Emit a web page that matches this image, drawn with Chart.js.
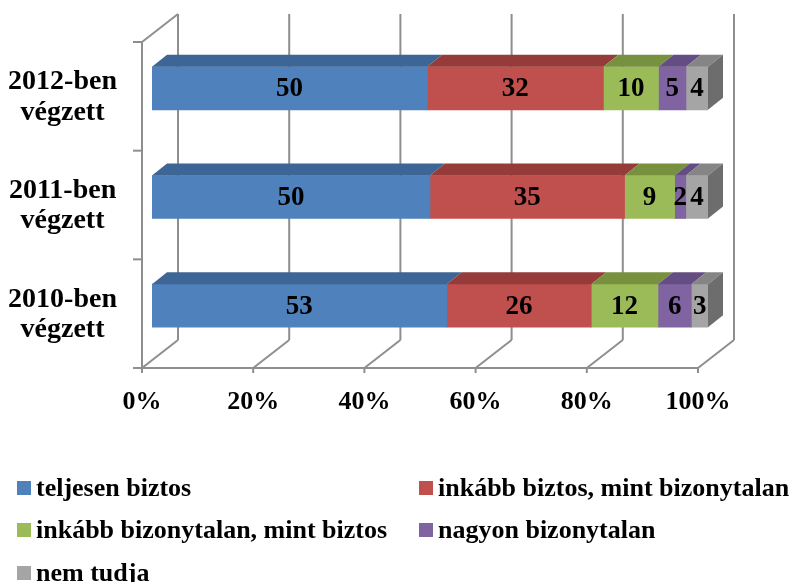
<!DOCTYPE html>
<html>
<head>
<meta charset="utf-8">
<script src="https://cdn.jsdelivr.net/npm/chart.js@4.4.0/dist/chart.umd.min.js"></script>
<style>
  html, body { margin: 0; padding: 0; background: #fff; }
</style>
</head>
<body>
<canvas id="chart" width="799" height="582"></canvas>
<script>
// categories, top to bottom
const categories = [['2012-ben', 'végzett'], ['2011-ben', 'végzett'], ['2010-ben', 'végzett']];
const seriesNames = ['teljesen biztos', 'inkább biztos, mint bizonytalan', 'inkább bizonytalan, mint biztos', 'nagyon bizonytalan', 'nem tudja'];
const teljesenBiztos = [50, 50, 53];
const inkabbBiztos = [32, 35, 26];
const inkabbBizonytalan = [10, 9, 12];
const nagyonBizonytalan = [5, 2, 6];
const nemTudja = [4, 4, 3];
const xTicks = [0, 20, 40, 60, 80, 100];

const seriesValues = [teljesenBiztos, inkabbBiztos, inkabbBizonytalan, nagyonBizonytalan, nemTudja];
const frontColors = ['#4f81bd', '#c0504d', '#9bbb59', '#8064a2', '#a5a5a5'];
const topColors = ['#3d6595', '#953b39', '#77913f', '#634d82', '#858585'];
const sideColor = '#6d6d6d';
const lineColor = '#8e8e8e';
const serif = "'Times New Roman', 'Liberation Serif', serif";

// 100% stacked: each row is scaled to its own total
const totals = categories.map((c, i) => seriesValues.reduce((s, arr) => s + arr[i], 0));

const DX = 15, DY = 12;              // depth of a bar
const FRONT = { x: -10, y: 8 };      // front edge of floor/wall vs bar plane
const BACK = { x: 26, y: -20 };      // back wall vs bar plane

function line(ctx, x1, y1, x2, y2) {
  ctx.beginPath();
  ctx.moveTo(x1, y1);
  ctx.lineTo(x2, y2);
  ctx.stroke();
}
function poly(ctx, pts, color) {
  ctx.beginPath();
  ctx.moveTo(pts[0][0], pts[0][1]);
  for (let i = 1; i < pts.length; i++) ctx.lineTo(pts[i][0], pts[i][1]);
  ctx.closePath();
  ctx.fillStyle = color;
  ctx.fill();
}

const threeD = {
  id: 'threeD',
  beforeDatasetsDraw(chart) {
    const { ctx, chartArea: a, scales: { x } } = chart;
    ctx.save();
    ctx.strokeStyle = lineColor;
    ctx.lineWidth = 2;
    const fy = a.bottom + FRONT.y, by = a.bottom + BACK.y;
    xTicks.forEach(v => {
      const px = x.getPixelForValue(v);
      line(ctx, px + BACK.x, a.top + BACK.y, px + BACK.x, by);
      line(ctx, px + FRONT.x, fy, px + BACK.x, by);
      line(ctx, px + FRONT.x, fy, px + FRONT.x, fy + 5);
    });
    const x0 = x.getPixelForValue(0), x1 = x.getPixelForValue(100);
    line(ctx, x0 + FRONT.x - 9, fy, x1 + FRONT.x, fy);
    line(ctx, x0 + FRONT.x, a.top + FRONT.y, x0 + FRONT.x, fy);
    line(ctx, x0 + FRONT.x, a.top + FRONT.y, x0 + BACK.x, a.top + BACK.y);
    const n = categories.length;
    for (let i = 0; i <= n; i++) {
      const yy = a.top + i * (a.bottom - a.top) / n + FRONT.y;
      line(ctx, x0 + FRONT.x - 9, yy, x0 + FRONT.x, yy);
    }
    ctx.restore();
  },
  afterDatasetsDraw(chart) {
    const { ctx } = chart;
    const last = chart.data.datasets.length - 1;
    ctx.save();
    chart.data.datasets.forEach((ds, di) => {
      chart.getDatasetMeta(di).data.forEach(bar => {
        const { x: bx, y: cy, base, height } = bar.getProps(['x', 'y', 'base', 'height'], true);
        const top = cy - height / 2, bottom = cy + height / 2;
        poly(ctx, [[base, top], [bx, top], [bx + DX, top - DY], [base + DX, top - DY]], topColors[di]);
        if (di === last) {
          poly(ctx, [[bx, top], [bx + DX, top - DY], [bx + DX, bottom - DY], [bx, bottom]], sideColor);
        }
      });
    });
    ctx.fillStyle = '#000';
    ctx.font = 'bold 27px ' + serif;
    ctx.textAlign = 'center';
    ctx.textBaseline = 'middle';
    chart.data.datasets.forEach((ds, di) => {
      chart.getDatasetMeta(di).data.forEach((bar, i) => {
        const { x: bx, y: cy, base } = bar.getProps(['x', 'y', 'base'], true);
        ctx.fillText(String(ds.rawValues[i]), (bx + base) / 2, cy + 1);
      });
    });
    ctx.restore();
  },
  afterDraw(chart) {
    // legend: two columns, three rows
    const { ctx } = chart;
    const colX = [17, 419];
    const rowY = [488, 530, 573];
    ctx.save();
    ctx.font = 'bold 26px ' + serif;
    ctx.textAlign = 'left';
    ctx.textBaseline = 'middle';
    seriesNames.forEach((name, i) => {
      const cx = colX[i % 2], cy = rowY[Math.floor(i / 2)];
      ctx.fillStyle = frontColors[i];
      ctx.fillRect(cx, cy - 7, 14, 14);
      ctx.fillStyle = '#000';
      ctx.fillText(name, cx + 19, cy + 1);
    });
    ctx.restore();
  }
};

const chart = new Chart(document.getElementById('chart').getContext('2d'), {
  type: 'bar',
  data: {
    labels: categories,
    datasets: seriesNames.map((name, di) => ({
      label: name,
      data: seriesValues[di].map((v, i) => v / totals[i] * 100),
      rawValues: seriesValues[di],
      backgroundColor: frontColors[di],
      borderWidth: 0,
      barThickness: 43
    }))
  },
  options: {
    indexAxis: 'y',
    responsive: false,
    animation: false,
    devicePixelRatio: 1,
    layout: { padding: { left: 0, right: 91, top: 34, bottom: 162 } },
    plugins: {
      legend: { display: false },
      tooltip: { enabled: false }
    },
    scales: {
      x: {
        stacked: true,
        min: 0,
        max: 100,
        grid: { display: false, drawTicks: false },
        border: { display: false },
        afterBuildTicks: s => { s.ticks = xTicks.map(v => ({ value: v })); },
        afterFit: s => { s.height = 60; s.paddingLeft = 0; s.paddingRight = 0; },
        ticks: {
          callback: v => v + '%',
          labelOffset: -10,
          padding: 27,
          color: '#000',
          maxRotation: 0,
          font: { family: serif, size: 26, weight: 'bold' }
        }
      },
      y: {
        stacked: true,
        grid: { display: false, drawTicks: false },
        border: { display: false },
        afterFit: s => { s.width = 152; s.paddingTop = 0; s.paddingBottom = 0; },
        ticks: {
          crossAlign: 'center',
          padding: 35,
          labelOffset: 9,
          color: '#000',
          font: { family: serif, size: 28, weight: 'bold', lineHeight: 1.08 }
        }
      }
    }
  },
  plugins: [threeD]
});
</script>
</body>
</html>
